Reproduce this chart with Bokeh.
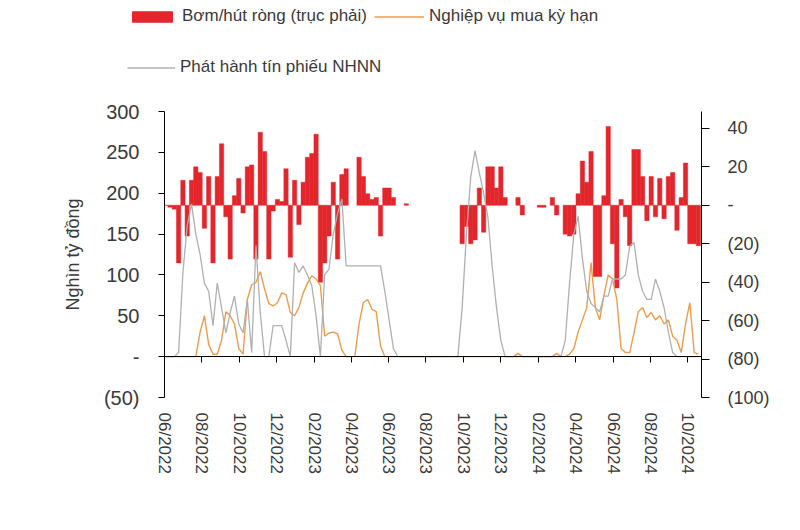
import math
import datetime as dt
import numpy as np
import pandas as pd
from bokeh.plotting import figure
from bokeh.models import (Range1d, LinearAxis, DatetimeAxis, FixedTicker, Legend,
                          LegendItem, ColumnDataSource)
from bokeh.embed import file_html
from bokeh.resources import INLINE

nan = float("nan")

# ---------------- data (weekly observations) ----------------
start_date = "2022-06-03"
n_weeks = 125

# Bơm/hút ròng (trục phải), nghìn tỷ đồng
net_injection = [
    0, -1, -2, -30, 13, -16, 13, 20, 17, -12,
    15, -30, 15, 32, -6, -28, 5, 14, -4, 20,
    21, -28, 38, 28, -28, -3, 3, 2, 19, -27,
    13, -10, 12, 25, 27, 37, -40, -30, -16, 12,
    -28, 16, 19, nan, nan, 25, 15, 6, 3, 4,
    -16, 9, 9, 4, nan, nan, 0.8, nan, nan, nan,
    nan, nan, nan, nan, nan, nan, nan, nan, nan, -20,
    -11, -20, -18, 9, -14, 20, 20, 9, 20, 4,
    nan, nan, 4, -5, nan, nan, nan, -1, -1, nan,
    4, -5, nan, -15, -16, -15, 6, 23, 12, 28,
    -37, -37, 5, 41, -20, -43, 3, -6, -21, 29,
    29, 15, -8, 15, -6, 14, -7, 15, 17, -13,
    4, 22, -20, -20, -21,
]

# Nghiệp vụ mua kỳ hạn (trục trái)
repo = [
    0, 0, 0, 0, 0, 0, 0, 0, 30, 50,
    15, 3, 3, 20, 55, 50, 40, 10, 3, 70,
    88, 91, 104, 83, 65, 62, 66, 78, 76, 54,
    50, 60, 78, 90, 99, 95, 87, 25, 29, 30,
    28, 8, 0, 0, 0, 40, 66, 70, 58, 55,
    13, 0, 0, 0, 0, 0, 0, 0, 0, 0,
    0, 0, 0, 0, 0, 0, 0, 0, 0, 0,
    0, 0, 0, 0, 0, 0, 0, 0, 0, 0,
    0, 0, 4, 0, 0, 0, 0, 0, 0, 0,
    0, 4, 0, 0, 3, 10, 30, 45, 60, 115,
    60, 45, 75, 100, 95, 70, 10, 5, 5, 29,
    55, 60, 48, 54, 45, 50, 40, 45, 25, 20,
    5, 40, 66, 5, 3,
]

# Phát hành tín phiếu NHNN (trục trái)
bills = [
    0, 0, 0, 5, 103, 160, 187, 150, 125, 90,
    80, 38, 90, 60, 29, 54, 74, 40, 29, 70,
    5, 136, 54, 0, 0, 38, 38, 38, 20, 0,
    115, 103, 111, 100, 87, 50, 0, 100, 107, 150,
    175, 193, 111, 111, 111, 111, 111, 111, 111, 111,
    111, 80, 45, 10, 0, 0, 0, 0, 0, 0,
    0, 0, 0, 0, 0, 0, 0, 0, 0, 60,
    150, 220, 252, 225, 200, 170, 110, 60, 20, 0,
    0, 0, 0, 0, 0, 0, 0, 0, 0, 0,
    0, 0, 0, 20, 90, 150, 172, 120, 80, 65,
    60, 55, 74, 74, 95, 95, 95, 100, 135, 140,
    100, 80, 70, 70, 95, 80, 60, 30, 5, 0,
    0, 0, 0, 0, 0,
]

x_tick_dates = ["2022-06-01", "2022-08-01", "2022-10-01", "2022-12-01", "2023-02-01",
                "2023-04-01", "2023-06-01", "2023-08-01", "2023-10-01", "2023-12-01",
                "2024-02-01", "2024-04-01", "2024-06-01", "2024-08-01", "2024-10-01"]
x_tick_labels = ["06/2022", "08/2022", "10/2022", "12/2022", "02/2023", "04/2023",
                 "06/2023", "08/2023", "10/2023", "12/2023", "02/2024", "04/2024",
                 "06/2024", "08/2024", "10/2024"]

left_ticks = [-50, 0, 50, 100, 150, 200, 250, 300]
left_tick_labels = ["(50)", "-", "50", "100", "150", "200", "250", "300"]
right_ticks = [-100, -80, -60, -40, -20, 0, 20, 40]
right_tick_labels = ["(100)", "(80)", "(60)", "(40)", "(20)", "-", "20", "40"]

series_names = ["Bơm/hút ròng (trục phải)", "Nghiệp vụ mua kỳ hạn", "Phát hành tín phiếu NHNN"]
y_title = "Nghìn tỷ đồng"

# ---------------- layout geometry ----------------
W, H = 800, 530
LEG_H = 90                     # height of the legend strip on top
FRAME_TOP_PX = 111             # page y of the chart frame top
FRAME_BOTTOM_PX = 397
FRAME_LEFT_PX = 164
FRAME_RIGHT_PX = 701

FONT = "Liberation Sans"
TXT = "#3a3a3a"
RED = "#e3262b"
ORANGE = "#eb9c4c"
GRAY = "#b0b0b0"

def to_ms(d):
    return int(pd.Timestamp(d).value // 10**6)

# ---------------- main chart ----------------
dates = pd.date_range(start_date, periods=n_weeks, freq="7D")
src = ColumnDataSource(dict(date=dates, net=net_injection, repo=repo, bills=bills))

p = figure(width=W, height=H - LEG_H, x_axis_type="datetime", title=None,
           x_range=Range1d(dt.datetime(2022, 6, 1), dt.datetime(2024, 10, 23)),
           y_range=Range1d(-50, 300),
           output_backend="svg", toolbar_location=None,
           min_border_left=FRAME_LEFT_PX, min_border_right=W - FRAME_RIGHT_PX,
           min_border_top=FRAME_TOP_PX - LEG_H, min_border_bottom=H - FRAME_BOTTOM_PX)
p.extra_y_ranges = {"right": Range1d(-100, 48.8)}
p.outline_line_color = None
p.xgrid.visible = False
p.ygrid.visible = False

week_ms = 7 * 24 * 3600 * 1000
p.vbar(x="date", top="net", bottom=0, width=week_ms, source=src,
       fill_color=RED, line_color=RED, line_width=0.5, y_range_name="right")
p.line(x="date", y="repo", source=src, line_color=ORANGE, line_width=1.4)
p.line(x="date", y="bills", source=src, line_color=GRAY, line_width=1.3)

tick_ms = [to_ms(d) for d in x_tick_dates]

xa = p.xaxis[0]
xa.ticker = FixedTicker(ticks=tick_ms)
xa.major_label_overrides = {t: l for t, l in zip(tick_ms, x_tick_labels)}
xa.major_label_orientation = "vertical"
xa.axis_line_color = None
xa.major_tick_line_color = None
xa.minor_tick_line_color = None
xa.major_label_standoff = 9
xa.major_label_text_font = FONT
xa.major_label_text_font_size = "17px"
xa.major_label_text_color = TXT

# zero-line axis with ticks (no labels)
za = DatetimeAxis(fixed_location=0, ticker=FixedTicker(ticks=tick_ms),
                  major_label_overrides={t: "" for t in tick_ms},
                  major_tick_in=0, major_tick_out=6,
                  minor_tick_line_color=None, axis_line_color="black",
                  major_tick_line_color="black")
p.add_layout(za, "below")

ya = p.yaxis[0]
ya.ticker = FixedTicker(ticks=left_ticks)
ya.major_label_overrides = {t: l for t, l in zip(left_ticks, left_tick_labels)}
ya.axis_line_color = "black"
ya.major_tick_line_color = "black"
ya.major_tick_in = 0
ya.major_tick_out = 6
ya.minor_tick_line_color = None
ya.major_label_standoff = 19
ya.major_label_text_font = FONT
ya.major_label_text_font_size = "20px"
ya.major_label_text_color = TXT
ya.axis_label = y_title
ya.axis_label_standoff = 18
ya.axis_label_text_font = FONT
ya.axis_label_text_font_size = "18px"
ya.axis_label_text_font_style = "normal"
ya.axis_label_text_color = TXT

ra = LinearAxis(y_range_name="right", ticker=FixedTicker(ticks=right_ticks))
ra.major_label_overrides = {t: l for t, l in zip(right_ticks, right_tick_labels)}
ra.axis_line_color = "black"
ra.major_tick_line_color = "black"
ra.major_tick_in = 0
ra.major_tick_out = 8
ra.minor_tick_line_color = None
ra.major_label_standoff = 18
ra.major_label_text_font = FONT
ra.major_label_text_font_size = "18px"
ra.major_label_text_color = TXT
p.add_layout(ra, "right")

# ---------------- legend strip (separate root, same data source, data kept off-view) ----
lg = figure(width=W, height=LEG_H, x_axis_type=None, y_axis_type=None, title=None,
            x_range=Range1d(0, 1), y_range=Range1d(0, 1),
            output_backend="svg", toolbar_location=None, min_border=0)
lg.outline_line_color = None
lg.xgrid.visible = False
lg.ygrid.visible = False
k_red = lg.vbar(x="date", top="net", bottom=0, width=week_ms, source=src,
                fill_color=RED, line_color=RED)
k_or = lg.line(x="date", y="repo", source=src, line_color=ORANGE, line_width=1.4)
k_gr = lg.line(x="date", y="bills", source=src, line_color=GRAY, line_width=1.3)

common = dict(padding=0, margin=0, border_line_color=None, background_fill_alpha=0,
              label_text_font=FONT, label_text_font_size="17px", label_text_color=TXT,
              label_standoff=5, glyph_height=13, label_height=13)
# location = bottom-left corner of the legend, px from the strip's bottom-left
leg1 = Legend(items=[LegendItem(label=series_names[0], renderers=[k_red]),
                     LegendItem(label=series_names[1], renderers=[k_or])],
              orientation="horizontal", location=(127, LEG_H - 26),
              glyph_width=50, spacing=7, **common)
leg2 = Legend(items=[LegendItem(label=series_names[2], renderers=[k_gr])],
              orientation="horizontal", location=(127, LEG_H - 77),
              glyph_width=48, **common)
lg.add_layout(leg1)
lg.add_layout(leg2)

open("out.html", "w").write(file_html([lg, p], INLINE))
